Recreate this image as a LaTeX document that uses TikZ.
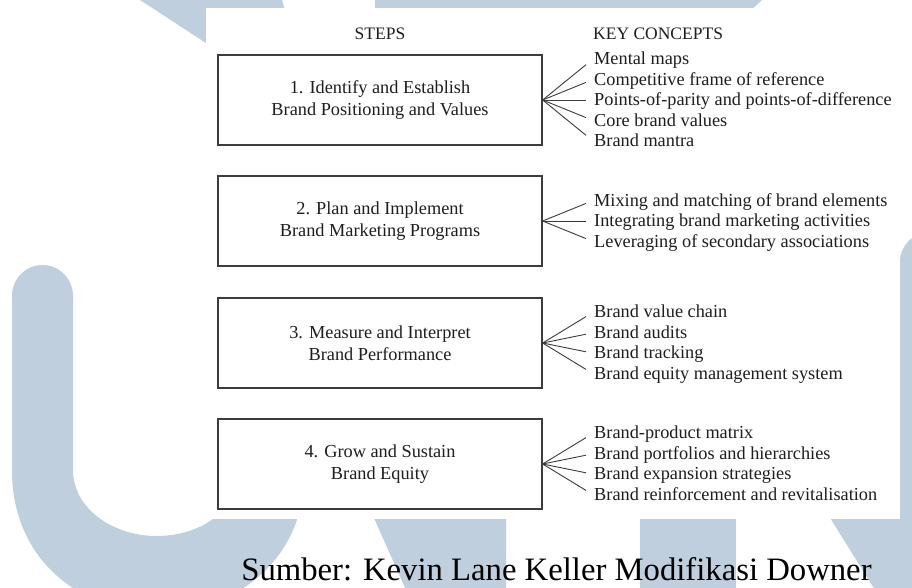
\documentclass[tikz,border=0pt]{standalone}
\usepackage{fontspec}
\setmainfont{Liberation Serif}
\definecolor{wm}{RGB}{191,207,221}
\definecolor{ink}{RGB}{30,30,30}
\definecolor{edge}{RGB}{60,60,60}
\begin{document}
\begin{tikzpicture}[x=1pt,y=-1pt,
  stepbox/.style={draw=edge, line width=1.3pt, minimum width=324pt, minimum height=90pt,
    align=center, inner sep=0pt, text=ink, font=\fontsize{18.3}{22}\selectfont},
  concept/.style={anchor=base west, inner sep=0pt, text=ink, font=\fontsize{18.3}{22}\selectfont},
  hdr/.style={anchor=base, inner sep=0pt, text=ink, font=\fontsize{17.5}{20}\selectfont},
  fan/.style={draw=edge, line width=0.9pt}]
\useasboundingbox (0,0) rectangle (912,587);
\fill[white] (0,0) rectangle (912,587);
% watermark
\fill[wm] (12,296) -- (12,470) .. controls (12,560) and (80,612) .. (158,612)
  .. controls (236,612) and (305,560) .. (305,470) -- (305,300) -- (240,300) -- (240,470)
  .. controls (240,508) and (202,536) .. (157,536) .. controls (112,536) and (73,508) .. (73,470)
  -- (73,296) .. controls (73,279) and (59.5,265) .. (42.5,265)
  .. controls (25.5,265) and (12,279) .. (12,296) -- cycle;
\fill[wm] (140,0) -- (282,0) -- (300,60) -- (232,60) -- cycle;
\fill[wm] (375,0) -- (762,0) -- (735,25) -- (375,25) -- cycle;
\fill[wm] (366,500) -- (506,500) -- (506,590) -- (406,590) -- cycle;
\fill[wm] (640,500) rectangle (736,590);
\fill[wm, rounded corners=30pt] (900,232) rectangle (970,560);
\fill[wm] (822,505) -- (912,505) -- (912,590) -- (875,590) -- cycle;
% panel
\fill[white] (206,8) rectangle (900,519);
% headers
\node[hdr] (hs) at (380,39) {STEPS};
\node[hdr, anchor=base west] (hk) at (593,39) {KEY CONCEPTS};
% boxes
\node[stepbox] (s1) at (380,100) {1. Identify and Establish\\Brand Positioning and Values};
\node[stepbox] (s2) at (380,221) {2. Plan and Implement\\Brand Marketing Programs};
\node[stepbox] (s3) at (380,343) {3. Measure and Interpret\\Brand Performance};
\node[stepbox] (s4) at (380,464) {4. Grow and Sustain\\Brand Equity};
% concepts 1
\node[concept] (c11) at (594,64.5) {Mental maps};
\node[concept] (c12) at (594,85) {Competitive frame of reference};
\node[concept] (c13) at (594,105.5) {Points-of-parity and points-of-difference};
\node[concept] (c14) at (594,126) {Core brand values};
\node[concept] (c15) at (594,146.5) {Brand mantra};
\coordinate (e11) at (586,64.7);
\coordinate (e12) at (586,82.4);
\coordinate (e13) at (586,100);
\coordinate (e14) at (586,117.6);
\coordinate (e15) at (586,135.3);
\foreach \i in {1,...,5} \draw[fan] (s1.east) -- (e1\i);
% concepts 2
\node[concept] (c21) at (594,206) {Mixing and matching of brand elements};
\node[concept] (c22) at (594,226.5) {Integrating brand marketing activities};
\node[concept] (c23) at (594,247) {Leveraging of secondary associations};
\coordinate (e21) at (586,203.4);
\coordinate (e22) at (586,221);
\coordinate (e23) at (586,238.6);
\foreach \i in {1,...,3} \draw[fan] (s2.east) -- (e2\i);
% concepts 3
\node[concept] (c31) at (594,317.75) {Brand value chain};
\node[concept] (c32) at (594,338.25) {Brand audits};
\node[concept] (c33) at (594,358.75) {Brand tracking};
\node[concept] (c34) at (594,379.25) {Brand equity management system};
\coordinate (e31) at (586,316.6);
\coordinate (e32) at (586,334.2);
\coordinate (e33) at (586,351.8);
\coordinate (e34) at (586,369.4);
\foreach \i in {1,...,4} \draw[fan] (s3.east) -- (e3\i);
% concepts 4
\node[concept] (c41) at (594,438.75) {Brand-product matrix};
\node[concept] (c42) at (594,459.25) {Brand portfolios and hierarchies};
\node[concept] (c43) at (594,479.75) {Brand expansion strategies};
\node[concept] (c44) at (594,500.25) {Brand reinforcement and revitalisation};
\coordinate (e41) at (586,437.6);
\coordinate (e42) at (586,455.2);
\coordinate (e43) at (586,472.8);
\coordinate (e44) at (586,490.4);
\foreach \i in {1,...,4} \draw[fan] (s4.east) -- (e4\i);
% source
\node[anchor=base, inner sep=0pt, text=black, font=\fontsize{32.7}{36}\selectfont] (src) at (556.5,580)
  {Sumber: Kevin Lane Keller Modifikasi Downer};
\end{tikzpicture}
\end{document}
